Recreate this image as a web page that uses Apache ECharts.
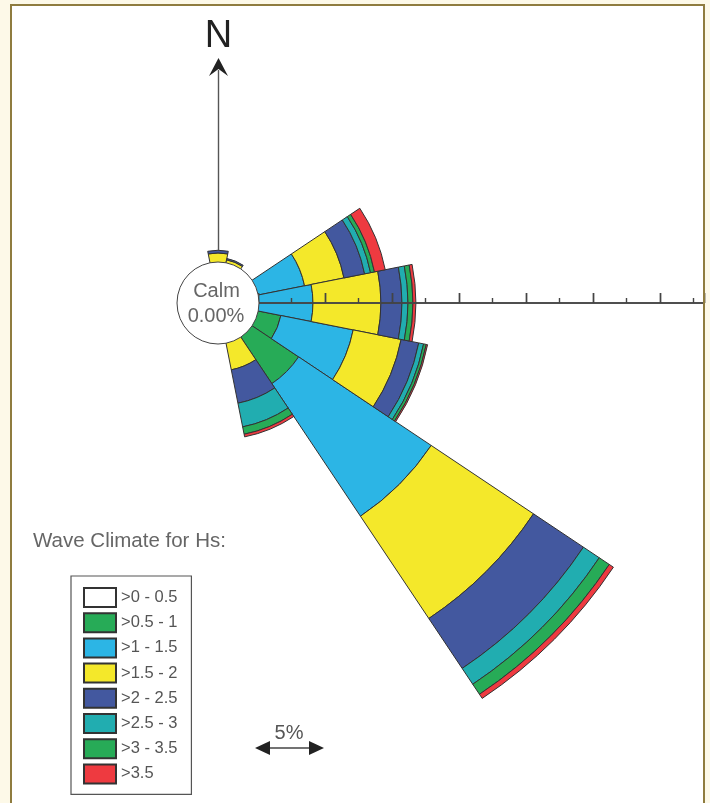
<!DOCTYPE html>
<html>
<head>
<meta charset="utf-8">
<title>Wave Climate for Hs</title>
<script src="https://cdn.jsdelivr.net/npm/echarts@6/dist/echarts.min.js"></script>
<style>
  html, body { margin: 0; padding: 0; background: #fdf9e8; }
  #chart { width: 710px; height: 803px; }
</style>
</head>
<body>
<div id="chart"></div>
<script>
var font = '"Liberation Sans", Arial, sans-serif';

var directions = ['N', 'NNE', 'NE', 'ENE', 'E', 'ESE', 'SE', 'SSE', 'S', 'SSW', 'SW', 'WSW', 'W', 'WNW', 'NW', 'NNW'];

// percent of occurrence per direction
var hs0 = [null, null, null, null, null, null, null, null, null, null, null, null, null, null, null, null];
var hs05 = [null, null, null, null, null, 1.8, 4.25, null, null, null, null, null, null, null, null, null];
var hs1 = [null, null, null, 3.6, 4.1, 5.5, 11.9, null, null, null, null, null, null, null, null, null];
var hs15 = [0.75, 0.3, null, 3.0, 5.07, 3.65, 9.18, 2.1, null, null, null, null, null, null, null, null];
var hs2 = [0.2, 0.1, null, 1.57, 1.57, 1.34, 4.48, 2.54, null, null, null, null, null, null, null, null];
var hs25 = [null, null, null, 0.45, 0.45, 0.37, 1.42, 1.8, null, null, null, null, null, null, null, null];
var hs3 = [null, null, null, 0.3, 0.37, 0.2, 0.9, 0.56, null, null, null, null, null, null, null, null];
var hs35 = [null, null, null, 0.82, 0.22, 0.1, 0.37, 0.2, null, null, null, null, null, null, null, null];

var classNames = ['>0 - 0.5', '>0.5 - 1', '>1 - 1.5', '>1.5 - 2', '>2 - 2.5', '>2.5 - 3', '>3 - 3.5', '>3.5'];
var classColors = ['#ffffff', '#27ab57', '#2cb5e5', '#f4e82a', '#43589f', '#21adb0', '#27ab57', '#ee3a40'];
var classValues = [hs0, hs05, hs1, hs15, hs2, hs25, hs3, hs35];

var center = [218, 303];
var radius = [40, 486];
var radiusMax = 33.28; // 67px = 5%

var series = classNames.map(function (name, i) {
  return {
    name: name,
    type: 'bar',
    coordinateSystem: 'polar',
    polarIndex: 0,
    stack: 'hs',
    barWidth: '100%',
    data: classValues[i],
    itemStyle: {
      color: classColors[i],
      borderColor: '#333',
      borderWidth: 1
    },
    silent: true
  };
});

function hiddenAngle(index, start) {
  return {
    polarIndex: index,
    type: 'value',
    min: 0,
    max: 360,
    startAngle: start,
    show: false
  };
}

// east axis: one polar for the ticks below the line, one for the ticks above
function eastAxis(index, inside, minor) {
  return {
    polarIndex: index,
    type: 'value',
    min: 0,
    max: radiusMax,
    interval: 5,
    z: 50,
    axisLine: { show: true, lineStyle: { color: '#444', width: 1.5 } },
    axisTick: { show: true, inside: inside, length: 10, lineStyle: { color: '#444', width: 1.4 } },
    minorTick: { show: minor, splitNumber: 2, length: 5, lineStyle: { color: '#444', width: 1.4 } },
    axisLabel: { show: false },
    splitLine: { show: false },
    minorSplitLine: { show: false }
  };
}

var chart = echarts.init(document.getElementById('chart'));

chart.setOption({
  animation: false,
  backgroundColor: '#fdf9e8',
  polar: [
    { center: center, radius: radius },
    { center: center, radius: radius },
    { center: center, radius: radius }
  ],
  angleAxis: [
    {
      polarIndex: 0,
      type: 'category',
      data: directions,
      startAngle: 101.25,
      clockwise: true,
      show: false
    },
    hiddenAngle(1, 0),
    hiddenAngle(2, 0)
  ],
  radiusAxis: [
    {
      polarIndex: 0,
      type: 'value',
      min: 0,
      max: radiusMax,
      show: false
    },
    eastAxis(1, true, true),
    eastAxis(2, false, false)
  ],
  legend: {
    orient: 'vertical',
    left: 71,
    top: 576,
    z: 60,
    padding: [11, 14, 10, 12],
    itemWidth: 32,
    itemHeight: 19,
    itemGap: 4.2,
    icon: 'rect',
    borderColor: '#555',
    borderWidth: 1.2,
    selectedMode: false,
    data: classNames,
    textStyle: { fontFamily: font, fontSize: 16.5, lineHeight: 18, color: '#555' }
  },
  series: series,
  graphic: [
    // page frame
    { type: 'rect', z: 0, shape: { x: 11, y: 5, width: 693, height: 820 },
      style: { fill: '#fff', stroke: 'none' } },
    { type: 'rect', z: 120, shape: { x: 11, y: 5, width: 693, height: 820 },
      style: { fill: 'none', stroke: '#8f7c3f', lineWidth: 2 } },
    // north arrow
    { type: 'line', z: 100, shape: { x1: 218.5, y1: 70, x2: 218.5, y2: 250 },
      style: { stroke: '#555', lineWidth: 1.4 } },
    { type: 'polygon', z: 100, shape: { points: [[218.5, 58], [228, 76], [218.5, 69], [209, 76]] },
      style: { fill: '#222' } },
    { type: 'text', z: 100, x: 218.5, y: 37,
      style: { text: 'N', fontFamily: font, fontSize: 38, fill: '#222', align: 'center', verticalAlign: 'middle' } },
    // calm circle
    { type: 'circle', z: 100, shape: { cx: 218, cy: 303, r: 41 },
      style: { fill: '#fff', stroke: '#444', lineWidth: 1 } },
    { type: 'text', z: 101, x: 216.5, y: 291,
      style: { text: 'Calm', fontFamily: font, fontSize: 20, fill: '#666', align: 'center', verticalAlign: 'middle' } },
    { type: 'text', z: 101, x: 216, y: 316,
      style: { text: '0.00%', fontFamily: font, fontSize: 20, fill: '#666', align: 'center', verticalAlign: 'middle' } },
    // legend title
    { type: 'text', z: 100, x: 33, y: 541,
      style: { text: 'Wave Climate for Hs:', fontFamily: font, fontSize: 20.5, fill: '#666', align: 'left', verticalAlign: 'middle' } },
    // 5% scale arrow
    { type: 'line', z: 100, shape: { x1: 265, y1: 748, x2: 314, y2: 748 },
      style: { stroke: '#444', lineWidth: 1.4 } },
    { type: 'polygon', z: 100, shape: { points: [[255, 748], [270, 741], [270, 755]] },
      style: { fill: '#222' } },
    { type: 'polygon', z: 100, shape: { points: [[324, 748], [309, 741], [309, 755]] },
      style: { fill: '#222' } },
    { type: 'text', z: 100, x: 289, y: 733,
      style: { text: '5%', fontFamily: font, fontSize: 20, fill: '#555', align: 'center', verticalAlign: 'middle' } }
  ]
});
</script>
</body>
</html>
